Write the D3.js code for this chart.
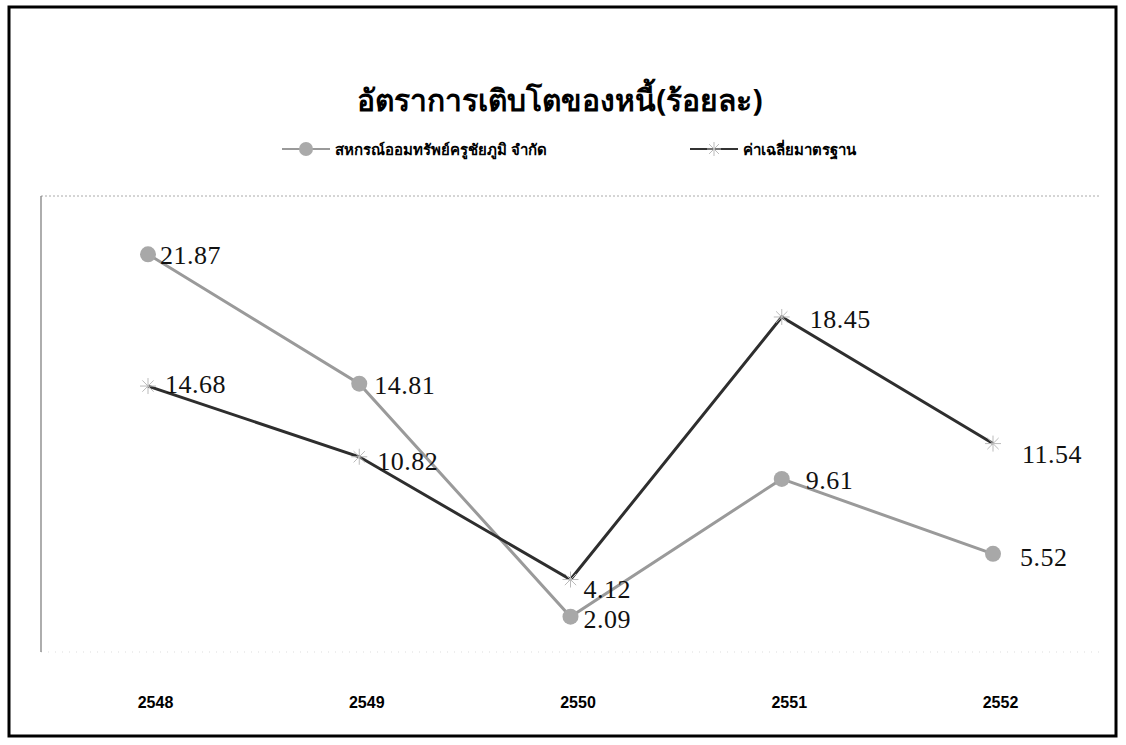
<!DOCTYPE html>
<html>
<head>
<meta charset="utf-8">
<script src="https://cdn.jsdelivr.net/npm/d3@7"></script>
<style>
  html, body { margin: 0; padding: 0; background: #fff; }
  svg { display: block; }
</style>
</head>
<body>
<svg id="chart" width="1126" height="745"></svg>
<script>
// Debt growth rate (percent), by Buddhist-era year
const years = ["2548", "2549", "2550", "2551", "2552"];
const coopValues = [21.87, 14.81, 2.09, 9.61, 5.52];
const standardValues = [14.68, 10.82, 4.12, 18.45, 11.54];
const seriesNames = ["สหกรณ์ออมทรัพย์ครูชัยภูมิ จำกัด", "ค่าเฉลี่ยมาตรฐาน"];
const titleText = "อัตราการเติบโตของหนี้(ร้อยละ)";

const svg = d3.select("#chart");
const W = 1126, H = 745;

// outer frame
svg.append("rect")
  .attr("x", 9).attr("y", 7).attr("width", W - 19).attr("height", H - 16)
  .attr("fill", "#fff").attr("stroke", "#000").attr("stroke-width", 3);

// plot area
const plot = { left: 41, right: 1099, top: 196, bottom: 652 };

const x = d3.scalePoint().domain(years).range([148, 993]);
const y = d3.scaleLinear().domain([0, 25]).range([655, 197]);

// plot frame: dotted top/bottom, solid left
svg.append("line")
  .attr("x1", plot.left).attr("x2", plot.right)
  .attr("y1", plot.top).attr("y2", plot.top)
  .attr("stroke", "#aaa").attr("stroke-width", 1).attr("stroke-dasharray", "2,2");
svg.append("line")
  .attr("x1", plot.left).attr("x2", plot.right)
  .attr("y1", plot.bottom).attr("y2", plot.bottom)
  .attr("stroke", "#ddd").attr("stroke-width", 1).attr("stroke-dasharray", "1,6");
svg.append("line")
  .attr("x1", plot.left).attr("x2", plot.left)
  .attr("y1", plot.top).attr("y2", plot.bottom)
  .attr("stroke", "#777").attr("stroke-width", 1.2);

// category axis (labels only)
const xAxis = d3.axisBottom(x).tickSize(0).tickPadding(0);
const gx = svg.append("g")
  .attr("transform", `translate(7, ${plot.bottom + 45})`)
  .call(xAxis);
gx.select(".domain").remove();
gx.selectAll("text")
  .attr("font-family", "'Liberation Sans Narrow', 'Liberation Sans', Arial, sans-serif")
  .attr("font-size", 16).attr("font-weight", "bold").attr("fill", "#000");

// title
svg.append("text")
  .attr("x", 560).attr("y", 111)
  .attr("text-anchor", "middle")
  .attr("font-family", "'Noto Sans', 'DejaVu Sans', sans-serif")
  .attr("font-size", 30).attr("font-weight", "bold")
  .text(titleText);

// legend
const legendItems = [
  { name: seriesNames[0], x: 282, color: "#9a9a9a", marker: "circle" },
  { name: seriesNames[1], x: 690, color: "#333", marker: "star" }
];
legendItems.forEach(item => {
  const g = svg.append("g").attr("transform", `translate(${item.x}, 149)`);
  g.append("line").attr("x1", 0).attr("x2", 48).attr("y1", 0).attr("y2", 0)
    .attr("stroke", item.color).attr("stroke-width", 2);
  if (item.marker === "circle") {
    g.append("circle").attr("cx", 24).attr("cy", 0).attr("r", 7).attr("fill", "#aaa");
  } else {
    drawStar(g, 24, 0, 7);
  }
  g.append("text").attr("x", 53).attr("y", 6)
    .attr("font-family", "'Noto Sans', 'DejaVu Sans', sans-serif")
    .attr("font-size", 15).attr("font-weight", "bold")
    .text(item.name);
});

function drawStar(g, cx, cy, r) {
  [0, 45, 90, 135].forEach(a => {
    const rad = a * Math.PI / 180;
    g.append("line")
      .attr("x1", cx - r * Math.cos(rad)).attr("y1", cy - r * Math.sin(rad))
      .attr("x2", cx + r * Math.cos(rad)).attr("y2", cy + r * Math.sin(rad))
      .attr("stroke", "#bbb").attr("stroke-width", 1);
  });
}

const line = d3.line().x((d, i) => x(years[i])).y(d => y(d));

// coop series (gray, circle markers)
svg.append("path").datum(coopValues)
  .attr("d", line).attr("fill", "none")
  .attr("stroke", "#9a9a9a").attr("stroke-width", 3);
// standard series (dark line, star markers)
svg.append("path").datum(standardValues)
  .attr("d", line).attr("fill", "none")
  .attr("stroke", "#2e2e2e").attr("stroke-width", 3);

svg.selectAll(".coop-pt").data(coopValues).enter().append("circle")
  .attr("cx", (d, i) => x(years[i])).attr("cy", d => y(d))
  .attr("r", 8).attr("fill", "#a8a8a8");

const stars = svg.append("g");
standardValues.forEach((d, i) => drawStar(stars, x(years[i]), y(d), 8));

// data labels
const labelFont = "'Liberation Serif', 'DejaVu Serif', serif";
const coopOffsets = [[12, 10], [15, 10], [13, 11], [24, 10], [27, 12]];
const stdOffsets = [[17, 7], [18, 13], [13, 18], [28, 11], [29, 19]];
function drawLabels(values, offsets) {
  svg.append("g").selectAll("text").data(values).enter().append("text")
    .attr("x", (d, i) => x(years[i]) + offsets[i][0])
    .attr("y", (d, i) => y(d) + offsets[i][1])
    .attr("font-family", labelFont).attr("font-size", 26)
    .attr("letter-spacing", 0.5).attr("fill", "#111")
    .text(d => d.toFixed(2));
}
drawLabels(coopValues, coopOffsets);
drawLabels(standardValues, stdOffsets);
</script>
</body>
</html>
